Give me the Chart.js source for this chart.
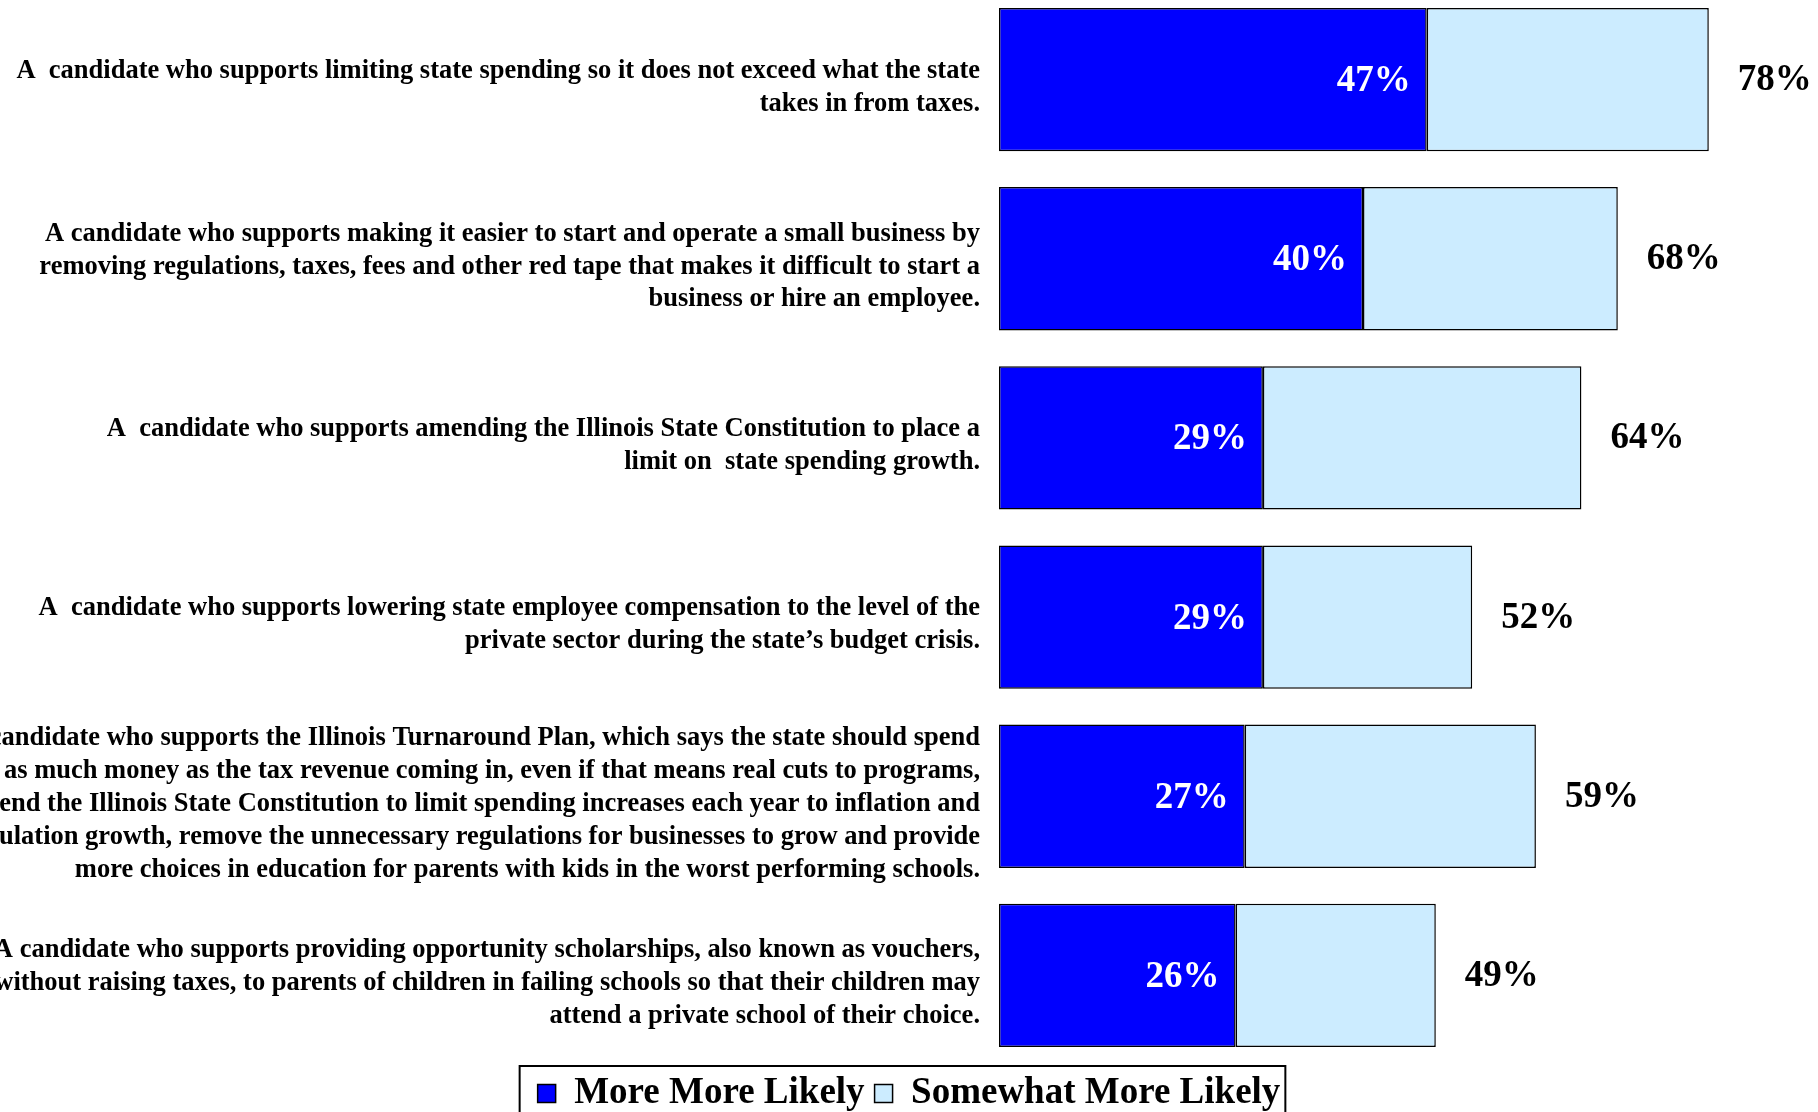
<!DOCTYPE html>
<html>
<head>
<meta charset="utf-8">
<script src="https://cdn.jsdelivr.net/npm/chart.js@4.4.1/dist/chart.umd.min.js"></script>
<style>
    html, body { margin: 0; padding: 0; background: #ffffff; overflow: hidden; }
    #wrap { position: absolute; left: 0; top: -10px; width: 1818px; height: 1132px; }
</style>
</head>
<body>
<div id="wrap"><canvas id="chart-likely"></canvas></div>
<script>
const categories = [
    ['A  candidate who supports limiting state spending so it does not exceed what the state', 'takes in from taxes.'],
    ['A candidate who supports making it easier to start and operate a small business by', 'removing regulations, taxes, fees and other red tape that makes it difficult to start a', 'business or hire an employee.'],
    ['A  candidate who supports amending the Illinois State Constitution to place a', 'limit on  state spending growth.'],
    ['A  candidate who supports lowering state employee compensation to the level of the', 'private sector during the state\u2019s budget crisis.'],
    ['A candidate who supports the Illinois Turnaround Plan, which says the state should spend', 'as much money as the tax revenue coming in, even if that means real cuts to programs,', 'amend the Illinois State Constitution to limit spending increases each year to inflation and', 'population growth, remove the unnecessary regulations for businesses to grow and provide', 'more choices in education for parents with kids in the worst performing schools.'],
    ['A candidate who supports providing opportunity scholarships, also known as vouchers,', 'without raising taxes, to parents of children in failing schools so that their children may', 'attend a private school of their choice.']
];
const moreLikely = [47, 40, 29, 29, 27, 26];
const somewhatLikely = [31, 28, 35, 23, 32, 22];
const totalLikely = [78, 68, 64, 52, 59, 49];
const seriesNames = ['More More Likely', 'Somewhat More Likely'];

const COLORS = { dark: '#0000ff', light: '#ccecff', edge: '#000000', text: '#000000', white: '#ffffff' };
const FONT = "'Liberation Serif', 'Times New Roman', serif";

// value labels inside the dark bars and totals after the stacked bars
const valueLabels = {
    id: 'valueLabels',
    afterDatasetsDraw(chart) {
        const ctx = chart.ctx;
        const dark = chart.getDatasetMeta(0).data;
        const light = chart.getDatasetMeta(1).data;
        ctx.save();
        ctx.font = 'bold 37px ' + FONT;
        ctx.textBaseline = 'middle';
        dark.forEach((bar, i) => {
            ctx.fillStyle = COLORS.white;
            ctx.textAlign = 'right';
            ctx.fillText(moreLikely[i] + '%', bar.x - 16, bar.y + 2);
            ctx.fillStyle = COLORS.text;
            ctx.textAlign = 'left';
            ctx.fillText(totalLikely[i] + '%', light[i].x + 29, light[i].y + 1);
        });
        ctx.restore();
    }
};

// black frame around the legend
const legendFrame = {
    id: 'legendFrame',
    afterDraw(chart) {
        const lg = chart.legend;
        if (!lg || !lg.legendHitBoxes.length) return;
        const boxes = lg.legendHitBoxes;
        const left = Math.min(...boxes.map(b => b.left)) - 18;
        const right = Math.max(...boxes.map(b => b.left + b.width)) + 5;
        const ctx = chart.ctx;
        ctx.save();
        ctx.strokeStyle = COLORS.edge;
        ctx.lineWidth = 2;
        ctx.strokeRect(left, lg.top + 1, right - left, lg.height + 20);
        ctx.restore();
    }
};

function createLikelyChart() {
    const ctx = document.getElementById('chart-likely');
    new Chart(ctx, {
        type: 'bar',
        data: {
            labels: categories,
            datasets: [
                { label: seriesNames[0], data: moreLikely, backgroundColor: COLORS.dark, borderColor: COLORS.edge, borderWidth: 1.5, borderSkipped: false, barPercentage: 1, categoryPercentage: 0.8 },
                { label: seriesNames[1], data: somewhatLikely, backgroundColor: COLORS.light, borderColor: COLORS.edge, borderWidth: 1.5, borderSkipped: false, barPercentage: 1, categoryPercentage: 0.8 }
            ]
        },
        options: {
            indexAxis: 'y',
            responsive: true, maintainAspectRatio: false,
            animation: false,
            layout: { padding: 0 },
            plugins: {
                legend: {
                    position: 'bottom',
                    labels: { color: COLORS.text, boxWidth: 18, boxHeight: 18, padding: 10, font: { family: FONT, size: 37, weight: 'bold' } }
                },
                tooltip: { enabled: false }
            },
            scales: {
                x: { stacked: true, min: 0, max: 90, display: false },
                y: {
                    stacked: true,
                    grid: { display: false, drawTicks: false },
                    border: { display: false },
                    ticks: { color: COLORS.text, padding: 19, labelOffset: 8, font: { family: FONT, size: 26.5, weight: 'bold', lineHeight: 1.24 } },
                    afterFit: s => { s.width = 999; s.paddingTop = 0; s.paddingBottom = 0; }
                }
            }
        },
        plugins: [valueLabels, legendFrame]
    });
}

createLikelyChart();
</script>
</body>
</html>
